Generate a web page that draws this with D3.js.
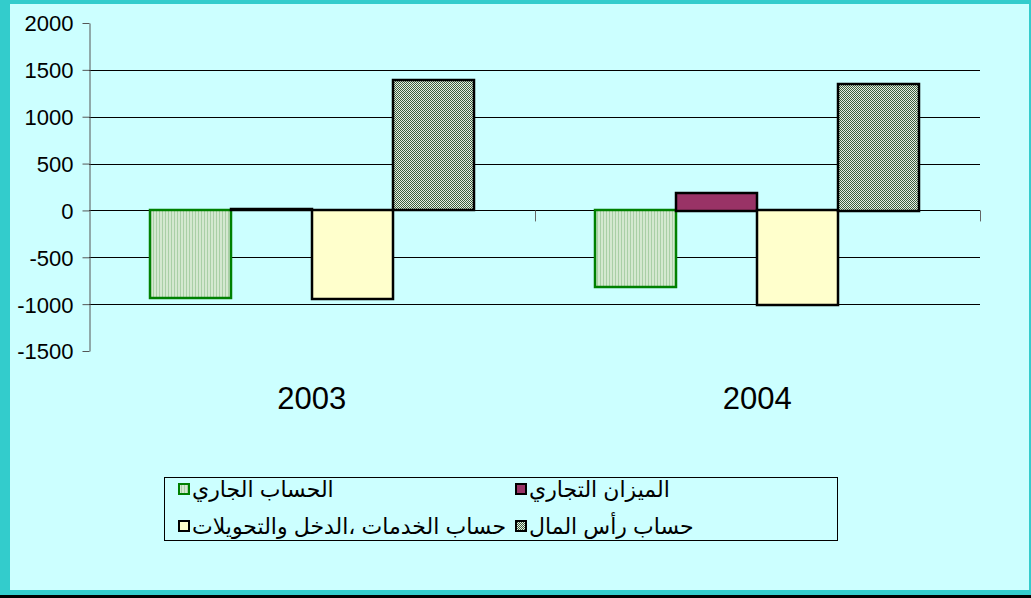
<!DOCTYPE html>
<html>
<head>
<meta charset="utf-8">
<script src="https://cdn.jsdelivr.net/npm/d3@7"></script>
<style>
  body { margin: 0; background: #ffffff; }
  svg text { font-family: "Liberation Sans", Arial, "DejaVu Sans", sans-serif; }
</style>
</head>
<body>
<div id="chart"></div>
<script>
// data
var years = ["2003", "2004"];
var seriesNames = ["الحساب الجاري", "الميزان التجاري", "حساب الخدمات ،الدخل والتحويلات", "حساب رأس المال"];
var currentAccount = [-940, -825];
var tradeBalance = [10, 190];
var servicesIncome = [-950, -1010];
var capitalAccount = [1390, 1350];
var yTicks = [-1500, -1000, -500, 0, 500, 1000, 1500, 2000];

var values = [currentAccount, tradeBalance, servicesIncome, capitalAccount];

var width = 1031, height = 598;

var svg = d3.select("#chart").append("svg")
    .attr("width", width)
    .attr("height", height);

// patterns
var defs = svg.append("defs");
var stripes = defs.append("pattern")
    .attr("id", "stripes")
    .attr("patternUnits", "userSpaceOnUse")
    .attr("width", 3).attr("height", 3);
stripes.append("rect").attr("width", 3).attr("height", 3).attr("fill", "#d4e8d0");
stripes.append("rect").attr("width", 1).attr("height", 3).attr("fill", "#a9cfa6");

var checker = defs.append("pattern")
    .attr("id", "checker")
    .attr("patternUnits", "userSpaceOnUse")
    .attr("width", 2).attr("height", 2);
checker.append("rect").attr("width", 2).attr("height", 2).attr("fill", "#e8efe6");
checker.append("rect").attr("width", 1).attr("height", 1).attr("fill", "#3d5f3d");
checker.append("rect").attr("x", 1).attr("y", 1).attr("width", 1).attr("height", 1).attr("fill", "#3d5f3d");

var fills = ["url(#stripes)", "#993366", "#ffffcc", "url(#checker)"];
var strokes = ["#008000", "#000", "#000", "#000"];

// frame
svg.append("rect").attr("width", width).attr("height", height).attr("fill", "#33cccc");
svg.append("rect").attr("x", 10).attr("y", 4).attr("width", 1019).attr("height", 586).attr("fill", "#ccffff");
svg.append("rect").attr("x", 0).attr("y", 595).attr("width", width).attr("height", 3).attr("fill", "#000");

var left = 89, right = 980;

var y = d3.scaleLinear()
    .domain([-1500, 2000])
    .range([351, 23]);

var x0 = d3.scaleBand()
    .domain(years)
    .range([left, right]);

// gap width 150%
var barW = x0.bandwidth() / (seriesNames.length + 1.5);
var x1 = d3.scaleBand()
    .domain(d3.range(seriesNames.length))
    .range([barW * 0.75, x0.bandwidth() - barW * 0.75]);

// gridlines
svg.append("g").selectAll("line")
    .data(yTicks.filter(function(d) { return d > -1500 && d < 2000; }))
  .enter().append("line")
    .attr("x1", left).attr("x2", right)
    .attr("y1", function(d) { return Math.round(y(d)) + 0.5; })
    .attr("y2", function(d) { return Math.round(y(d)) + 0.5; })
    .attr("stroke", "#000")
    .attr("stroke-width", 1);

// category ticks below zero line
svg.append("g").selectAll("line")
    .data(years)
  .enter().append("line")
    .attr("x1", function(d) { return Math.round(x0(d) + x0.bandwidth()) + 0.5; })
    .attr("x2", function(d) { return Math.round(x0(d) + x0.bandwidth()) + 0.5; })
    .attr("y1", y(0)).attr("y2", y(0) + 11)
    .attr("stroke", "#666");

// y axis
var yAxis = svg.append("g")
    .attr("transform", "translate(" + (left + 0.5) + ",0)")
    .call(d3.axisLeft(y).tickValues(yTicks).tickFormat(function(d) { return String(d); })
      .tickSize(7).tickPadding(9).tickSizeOuter(0));
yAxis.select(".domain").attr("stroke", "#555");
yAxis.selectAll(".tick line").attr("stroke", "#555");
yAxis.selectAll("text")
    .style("font-size", "22px")
    .attr("fill", "#000")
    .attr("dy", "0.36em");

// bars
var bars = svg.append("g").selectAll("g")
    .data(years)
  .enter().append("g");

bars.selectAll("rect")
    .data(function(d, i) { return values.map(function(v, s) { return { year: d, s: s, v: v[i] }; }); })
  .enter().append("rect")
    .attr("x", function(d) { return Math.round(x0(d.year) + x1(d.s)); })
    .attr("width", Math.round(x1.bandwidth()))
    .attr("y", function(d) { return Math.round(y(Math.max(0, d.v))); })
    .attr("height", function(d) { return Math.max(1, Math.round(Math.abs(y(d.v) - y(0)))); })
    .attr("fill", function(d) { return fills[d.s]; })
    .attr("stroke", function(d) { return strokes[d.s]; })
    .attr("stroke-width", 2.5);

// category labels
svg.append("g").selectAll("text")
    .data(years)
  .enter().append("text")
    .attr("x", function(d) { return x0(d) + x0.bandwidth() / 2; })
    .attr("y", 409)
    .attr("text-anchor", "middle")
    .style("font-size", "31px")
    .text(function(d) { return d; });

// legend
var legend = svg.append("g");
legend.append("rect")
    .attr("x", 164.5).attr("y", 477.5)
    .attr("width", 673).attr("height", 63)
    .attr("fill", "none")
    .attr("stroke", "#000");

var legendPos = [[178, 489], [515, 489], [178, 526], [515, 526]];
var item = legend.selectAll(".item")
    .data(seriesNames)
  .enter().append("g")
    .attr("class", "item")
    .attr("transform", function(d, i) { return "translate(" + legendPos[i][0] + "," + legendPos[i][1] + ")"; });
item.append("rect")
    .attr("x", 1).attr("y", -5)
    .attr("width", 10).attr("height", 10)
    .attr("fill", function(d, i) { return fills[i]; })
    .attr("stroke", function(d, i) { return strokes[i]; })
    .attr("stroke-width", 2);
item.append("text")
    .attr("x", 14)
    .attr("y", 0)
    .attr("dy", "0.35em")
    .style("font-size", "22px")
    .text(function(d) { return d; });
</script>
</body>
</html>
